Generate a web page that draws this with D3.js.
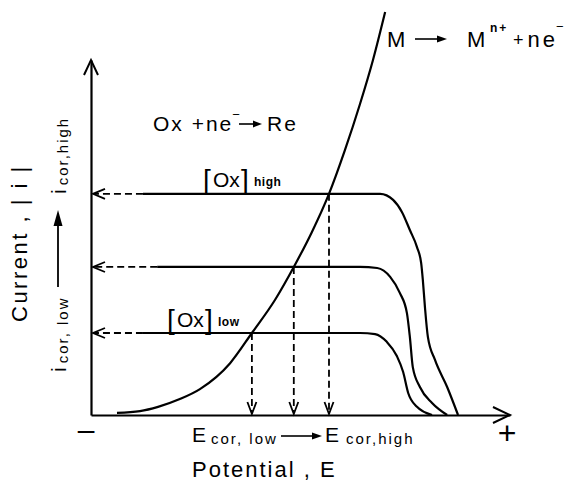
<!DOCTYPE html>
<html>
<head>
<meta charset="utf-8">
<script src="https://cdn.jsdelivr.net/npm/d3@7/dist/d3.min.js"></script>
<style>
  html, body { margin: 0; padding: 0; background: #fff; }
  svg { display: block; }
  text { font-family: "Liberation Sans", Arial, sans-serif; fill: #000; }
</style>
</head>
<body>
<svg id="chart" width="569" height="492"></svg>
<script>
// Potential (x) and current (y) in arbitrary units, 0..100 along each axis.

// Anodic dissolution curve M -> M^n+ + ne-
const anodicE = [6.2, 11.7, 16.0, 21.2, 26.0, 33.2, 38.4, 43.9, 48.4, 52.7, 56.8, 60.6, 64.2, 67.3, 70.2];
const anodicI = [0.6, 1.1, 2.3, 4.5, 7.3, 14.6, 23.1, 32.4, 41.7, 51.5, 62.3, 74.6, 87.6, 100, 113.5];

// Cathodic reduction curves Ox + ne- -> Re, for three oxidant concentrations
const cathodicHighE = [12.4, 64.2, 69.0, 72.1, 74.2, 76.1, 77.8, 78.8, 79.2, 79.7, 80.4, 82.1, 85.0, 87.6];
const cathodicHighI = [62.3, 62.3, 62.3, 60.6, 57.2, 52.1, 47.3, 42.8, 38.0, 30.4, 22.0, 15.5, 7.9, 0];
const cathodicMidE  = [15.8, 64.2, 68.3, 71.4, 73.7, 75.4, 76.1, 76.8, 78.5, 81.4, 85.0];
const cathodicMidI  = [41.7, 41.7, 41.4, 38.9, 34.4, 28.7, 22.0, 13.5, 7.9, 3.4, 0];
const cathodicLowE  = [12.4, 64.2, 67.8, 70.6, 73.0, 74.5, 75.7, 77.8, 81.4];
const cathodicLowI  = [23.1, 23.1, 22.8, 20.6, 16.6, 12.1, 6.2, 2.3, 0];

// Corrosion points (intersection of anodic and cathodic curves)
const corrosionE = [38.4, 48.4, 56.8];
const corrosionI = [23.1, 41.7, 62.3];

const svg = d3.select("#chart");
const x = d3.scaleLinear().domain([0, 100]).range([91, 510]);
const y = d3.scaleLinear().domain([0, 100]).range([415, 60]);

const zip = (a, b) => a.map((v, i) => [v, b[i]]);
const line = d3.line().x(d => x(d[0])).y(d => y(d[1])).curve(d3.curveMonotoneX);

// Axes without ticks
svg.append("g").attr("transform", `translate(0,${y(0)})`)
  .call(d3.axisBottom(x).tickValues([]).tickSizeOuter(0))
  .select(".domain").attr("stroke-width", 2.2);
svg.append("g").attr("transform", `translate(${x(0)},0)`)
  .call(d3.axisLeft(y).tickValues([]).tickSizeOuter(0))
  .select(".domain").attr("stroke-width", 2.2);

// Open chevron arrowhead; dir in radians (direction of travel)
function chevron(tx, ty, dir, len, half, sw) {
  const c = Math.cos(dir), s = Math.sin(dir);
  const bx = tx - c * len, by = ty - s * len;
  const p = d3.path();
  p.moveTo(bx - s * half, by + c * half);
  p.lineTo(tx, ty);
  p.lineTo(bx + s * half, by - c * half);
  svg.append("path").attr("d", p.toString()).attr("fill", "none")
    .attr("stroke", "#000").attr("stroke-width", sw).attr("stroke-linejoin", "miter");
}
// Solid arrow with filled head
function solidArrow(x1, y1, x2, y2, headLen, headHalf, sw) {
  const dir = Math.atan2(y2 - y1, x2 - x1);
  const c = Math.cos(dir), s = Math.sin(dir);
  const bx = x2 - c * headLen, by = y2 - s * headLen;
  svg.append("line").attr("x1", x1).attr("y1", y1).attr("x2", bx).attr("y2", by)
    .attr("stroke", "#000").attr("stroke-width", sw);
  svg.append("path")
    .attr("d", `M${x2},${y2}L${bx - s * headHalf},${by + c * headHalf}L${bx + s * headHalf},${by - c * headHalf}Z`)
    .attr("fill", "#000");
}

chevron(x(0), y(100), -Math.PI / 2, 15, 7, 2);
chevron(x(100), y(0), 0, 17, 8, 2);

// Curves
const curves = [
  zip(anodicE, anodicI),
  zip(cathodicHighE, cathodicHighI),
  zip(cathodicMidE, cathodicMidI),
  zip(cathodicLowE, cathodicLowI)
];
svg.append("g").selectAll("path").data(curves).join("path")
  .attr("d", line).attr("fill", "none").attr("stroke", "#000")
  .attr("stroke-width", 2.2).attr("stroke-linejoin", "round");

// Dashed projections to the current axis
const plateauStart = [cathodicLowE[0], cathodicMidE[0], cathodicHighE[0]];
corrosionI.forEach((iv, k) => {
  svg.append("line")
    .attr("x1", x(plateauStart[k])).attr("y1", y(iv))
    .attr("x2", x(0) + 3).attr("y2", y(iv))
    .attr("stroke", "#000").attr("stroke-width", 1.8).attr("stroke-dasharray", "7,4");
  chevron(x(0) + 2, y(iv), Math.PI, 12, 5, 1.8);
});
// Dashed projections to the potential axis
corrosionE.forEach((ev, k) => {
  svg.append("line")
    .attr("x1", x(ev)).attr("y1", y(corrosionI[k]))
    .attr("x2", x(ev)).attr("y2", y(0) - 3)
    .attr("stroke", "#000").attr("stroke-width", 1.8).attr("stroke-dasharray", "7,4");
  chevron(x(ev), y(0) - 1, Math.PI / 2, 12, 4.5, 1.8);
});

// Reaction labels
const cath = svg.append("text").attr("x", 153).attr("y", 131).attr("font-size", 21);
cath.append("tspan").attr("letter-spacing", 2).text("Ox +ne");
cath.append("tspan").attr("dx", -1).attr("dy", -12).attr("font-size", 13).text("−");
solidArrow(239, 124, 262, 124, 9, 3.5, 1.6);
svg.append("text").attr("x", 267).attr("y", 131).attr("font-size", 21)
  .attr("letter-spacing", 2).text("Re");

svg.append("text").attr("x", 387).attr("y", 47).attr("font-size", 22).text("M");
solidArrow(415, 39, 447, 39, 10, 3.5, 1.6);
svg.append("text").attr("x", 467).attr("y", 47).attr("font-size", 22).text("M");
svg.append("text").attr("x", 490).attr("y", 32).attr("font-size", 12)
  .attr("font-weight", "bold").attr("letter-spacing", 2).text("n+");
const anod = svg.append("text").attr("x", 513).attr("y", 47).attr("font-size", 22);
anod.append("tspan").attr("font-size", 18).attr("dy", -1).text("+");
anod.append("tspan").attr("dx", 4).attr("dy", 1).text("n");
anod.append("tspan").attr("dx", 3).text("e");
anod.append("tspan").attr("dx", 1).attr("dy", -16).attr("font-size", 13).text("−");

// Concentration labels
function concLabel(bx, base, sub) {
  svg.append("text").attr("x", bx).attr("y", base + 2).attr("font-size", 28)
    .attr("font-weight", 300).text("[");
  svg.append("text").attr("x", bx + 10).attr("y", base).attr("font-size", 21).text("Ox");
  svg.append("text").attr("x", bx + 38).attr("y", base + 2).attr("font-size", 28)
    .attr("font-weight", 300).text("]");
  svg.append("text").attr("x", bx + 51).attr("y", base - 1).attr("font-size", 12)
    .attr("font-weight", "bold").attr("letter-spacing", 0.5).text(sub);
}
concLabel(203, 187, "high");
concLabel(167, 327, "low");

// Potential axis labels
svg.append("text").attr("x", 86).attr("y", 440).attr("font-size", 30)
  .attr("text-anchor", "middle").text("–");
svg.append("text").attr("x", 507).attr("y", 444).attr("font-size", 32)
  .attr("text-anchor", "middle").text("+");
svg.append("text").attr("x", 192).attr("y", 442).attr("font-size", 21).text("E");
svg.append("text").attr("x", 211).attr("y", 444).attr("font-size", 15)
  .attr("letter-spacing", 2).text("cor, low");
solidArrow(281, 436, 322, 436, 10, 3.5, 1.6);
svg.append("text").attr("x", 325).attr("y", 442).attr("font-size", 21).text("E");
svg.append("text").attr("x", 346).attr("y", 444).attr("font-size", 15)
  .attr("letter-spacing", 2).text("cor,high");
svg.append("text").attr("x", 192).attr("y", 477).attr("font-size", 22)
  .attr("letter-spacing", 2).text("Potential , E");

// Current axis labels (rotated)
svg.append("text").attr("transform", "translate(27,322) rotate(-90)")
  .attr("font-size", 22).attr("letter-spacing", 2.5).text("Current , | i |");
function iLabel(px, py, sub) {
  const t = svg.append("text").attr("transform", `translate(${px},${py}) rotate(-90)`)
    .attr("font-size", 21);
  t.append("tspan").text("i");
  t.append("tspan").attr("dx", 4).attr("dy", 2).attr("font-size", 15)
    .attr("letter-spacing", 2).text(sub);
}
iLabel(66, 372, "cor, low");
iLabel(66, 194, "cor,high");
solidArrow(58, 287, 58, 210, 16, 4.5, 1.8);
</script>
</body>
</html>
